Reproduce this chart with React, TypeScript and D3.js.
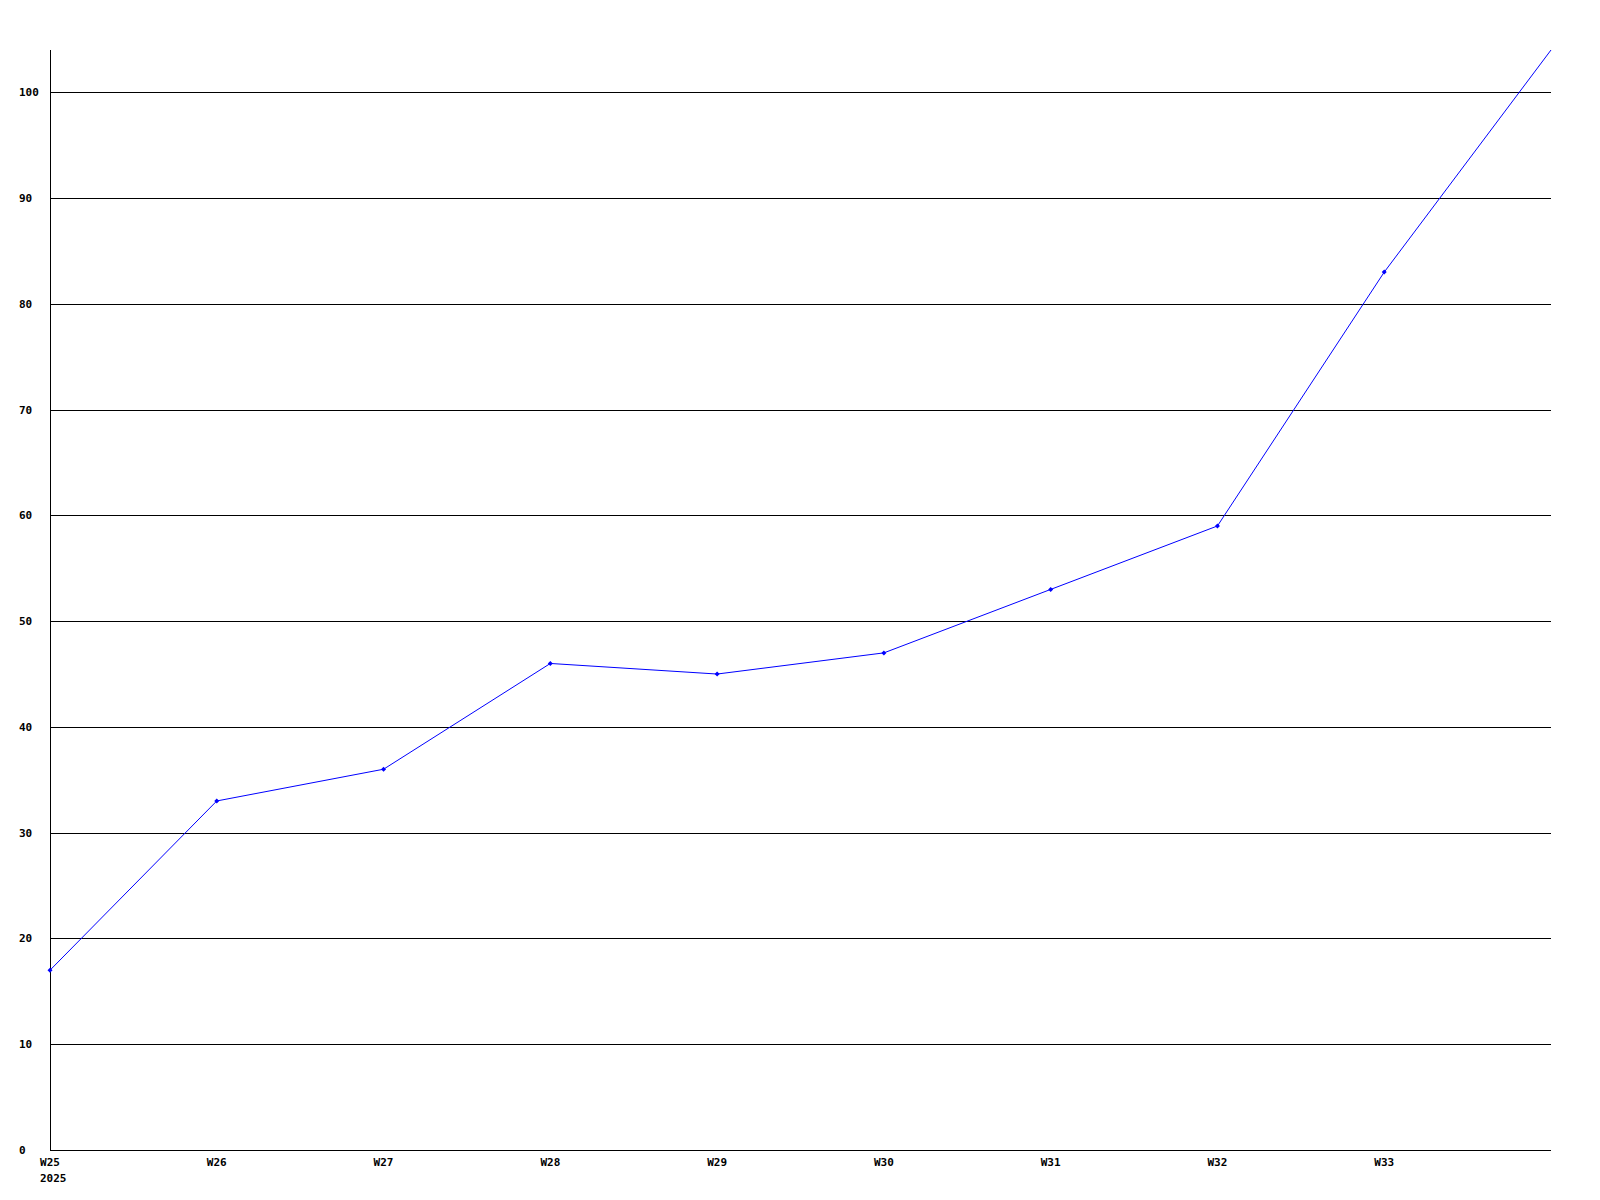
import React from "react";
import * as d3 from "d3";

const weeks = ["W25", "W26", "W27", "W28", "W29", "W30", "W31", "W32", "W33", "W34"];
const values = [17, 33, 36, 46, 45, 47, 53, 59, 83, 104];
const xTickLabels = ["W25", "W26", "W27", "W28", "W29", "W30", "W31", "W32", "W33"];
const yTicks = [0, 10, 20, 30, 40, 50, 60, 70, 80, 90, 100];
const yearLabel = "2025";

export default function App() {
  const W = 1600, H = 1200;
  const left = 50, right = 1551, top = 50, bottom = 1150;
  const x = d3.scaleLinear().domain([0, weeks.length - 1]).range([left, right]);
  const y = d3.scaleLinear().domain([0, 104]).range([bottom, top]);
  const line = d3.line<number>().x((_, i) => x(i)).y((d) => y(d));
  const font = "'DejaVu Sans Mono', monospace";
  const cr = (v: number) => Math.round(v) + 0.5;
  return (
    <svg width={W} height={H} style={{ position: "absolute", left: 0, top: 0, background: "#fff" }}>
      <rect x={0} y={0} width={W} height={H} fill="#fff" />
      {yTicks.filter((t) => t > 0).map((t) => (
        <line key={t} x1={left} x2={right} y1={cr(y(t))} y2={cr(y(t))} stroke="#000" strokeWidth={1} shapeRendering="crispEdges" />
      ))}
      <line x1={cr(left)} x2={cr(left)} y1={top} y2={bottom} stroke="#000" strokeWidth={1} shapeRendering="crispEdges" />
      <line x1={left} x2={right} y1={cr(bottom)} y2={cr(bottom)} stroke="#000" strokeWidth={1} shapeRendering="crispEdges" />
      {yTicks.map((t) => (
        <text key={t} x={19} y={y(t) + 4} fontFamily={font} fontWeight="bold" fontSize={11} fill="#000">{t}</text>
      ))}
      {xTickLabels.map((l, i) => (
        <text key={l} x={x(i)} y={1166} textAnchor="middle" fontFamily={font} fontWeight="bold" fontSize={11} fill="#000">{l}</text>
      ))}
      <text x={40} y={1182} fontFamily={font} fontWeight="bold" fontSize={11} fill="#000">{yearLabel}</text>
      <path d={line(values) || ""} fill="none" stroke="#0000ff" strokeWidth={1} />
      {values.slice(0, values.length - 1).map((v, i) => (
        <path key={i} d={`M${x(i) - 2.5},${y(v)}L${x(i)},${y(v) - 2.5}L${x(i) + 2.5},${y(v)}L${x(i)},${y(v) + 2.5}Z`} fill="#0000ff" />
      ))}
    </svg>
  );
}
